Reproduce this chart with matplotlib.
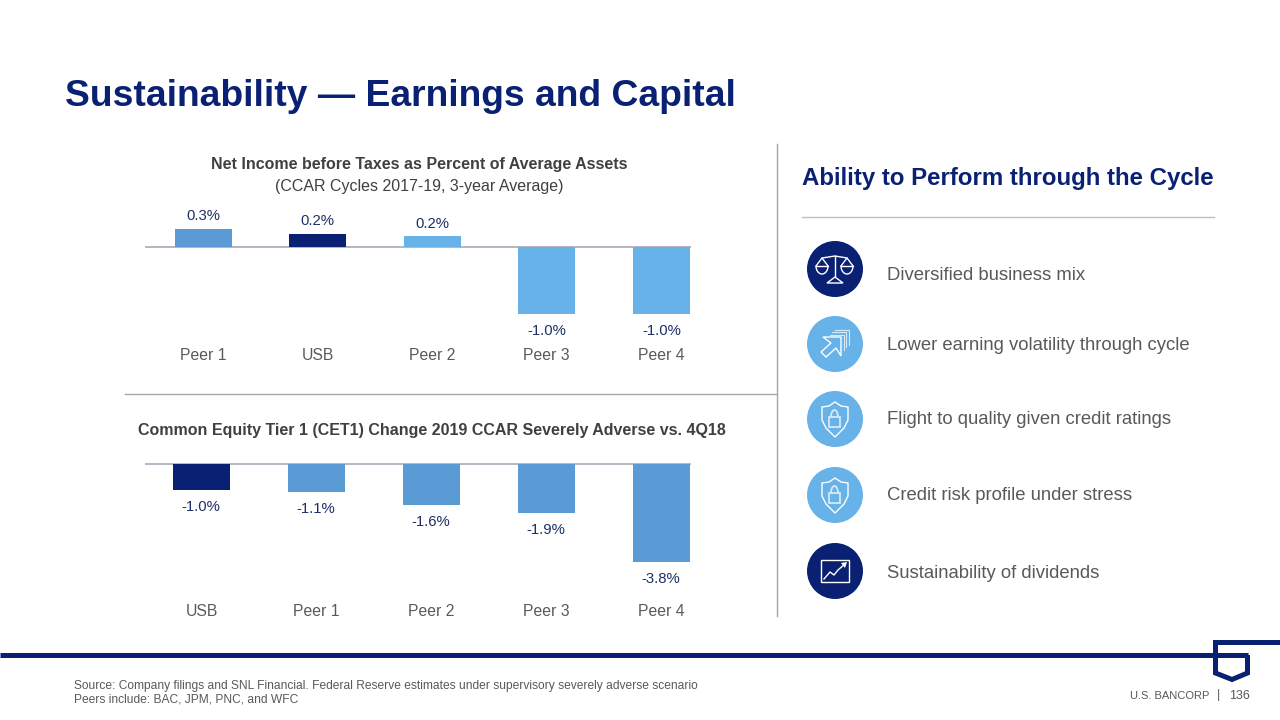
import numpy as np
import matplotlib
matplotlib.use("Agg")
import matplotlib.pyplot as plt
from matplotlib.patches import Circle, Polygon, Rectangle

plt.rcParams['font.family'] = ['Liberation Sans', 'DejaVu Sans']

# Datos de las barras
top_names = ['Peer 1', 'USB', 'Peer 2', 'Peer 3', 'Peer 4']
top_values = [0.27, 0.20, 0.16, -1.0, -1.0]
top_labels = ['0.3%', '0.2%', '0.2%', '-1.0%', '-1.0%']
bottom_names = ['USB', 'Peer 1', 'Peer 2', 'Peer 3', 'Peer 4']
bottom_values = [-1.0, -1.1, -1.6, -1.9, -3.8]
bottom_labels = ['-1.0%', '-1.1%', '-1.6%', '-1.9%', '-3.8%']
right_items = ['Diversified business mix', 'Lower earning volatility through cycle',
               'Flight to quality given credit ratings', 'Credit risk profile under stress',
               'Sustainability of dividends']

NAVY = '#0A2173'
MID = '#5B9BD5'
LIGHT = '#67B2E8'
GREY = '#595959'
LABEL = '#1F2F66'
W, H = 1280, 720

top_colors = [MID, NAVY, LIGHT, LIGHT, LIGHT]
bottom_colors = [NAVY, MID, MID, MID, MID]

fig = plt.figure(figsize=(W/100, H/100), dpi=100, facecolor='white')

# Capa en pixeles para textos, lineas e iconos
bg = fig.add_axes([0, 0, 1, 1])
bg.set_xlim(0, W)
bg.set_ylim(H, 0)
bg.axis('off')


def bar_axes(left, right, ytop, ybottom):
    return fig.add_axes([left/W, 1-ybottom/H, (right-left)/W, (ybottom-ytop)/H])


def draw_bars(ax, values, colors, names, labels, first, step, scale, base, name_y, off_up, off_down, dx):
    xs = np.arange(len(values))
    ax.bar(xs, values, width=57/step, color=colors, edgecolor='none', zorder=2)
    ax.axhline(0, color='#B5B5C3', lw=1.4, zorder=1)
    ax.axis('off')
    for i, v in enumerate(values):
        px = first + i*step
        if v > 0:
            py = base - v*scale - off_up
        else:
            py = base - v*scale + off_down
        bg.text(px+dx, py, labels[i], ha='center', va='center', fontsize=10.7, color=LABEL)
        bg.text(px, name_y, names[i], ha='center', va='center', fontsize=11.3, color=GREY)


# Grafica de arriba
first = 203
step = 114.6
ax1 = bar_axes(145, 691, 215, 325)
ax1.set_xlim((145-first)/step, (691-first)/step)
ax1.set_ylim((247-325)/67.0, (247-215)/67.0)
draw_bars(ax1, top_values, top_colors, top_names, top_labels, first, step, 67.0, 247, 356, 12.5, 17, 0)

# Grafica de abajo
first = 201.5
step = 115
ax2 = bar_axes(145, 691, 455, 570)
ax2.set_xlim((145-first)/step, (691-first)/step)
ax2.set_ylim((464-570)/25.8, (464-455)/25.8)
draw_bars(ax2, bottom_values, bottom_colors, bottom_names, bottom_labels, first, step, 25.8, 464, 612, 0, 17, -1)

# Titulos
bg.text(65, 96, 'Sustainability \u2014 Earnings and Capital', fontsize=26.85, fontweight='bold',
        color=NAVY, ha='left', va='center')
bg.text(419.5, 165, 'Net Income before Taxes as Percent of Average Assets', fontsize=11.55, fontweight='bold',
        color='#404040', ha='center', va='center')
bg.text(419.5, 186, '(CCAR Cycles 2017-19, 3-year Average)', fontsize=11.55, color='#404040', ha='center', va='center')
bg.text(431.5, 431, 'Common Equity Tier 1 (CET1) Change 2019 CCAR Severely Adverse vs. 4Q18', fontsize=11.55,
        fontweight='bold', color='#404040', ha='center', va='center')
bg.text(802, 178, 'Ability to Perform through the Cycle', fontsize=17.25, fontweight='bold',
        color=NAVY, ha='left', va='center')

# Separadores
bg.plot([777, 777], [144, 616], color='#A6A6A6', lw=1.0)
bg.plot([125, 777], [394, 394], color='#A6A6A6', lw=1.0)
bg.plot([802, 1214], [217, 217], color='#BFBFBF', lw=1.0)

# Lista de la derecha
icon_y = [269, 344, 419, 495, 571]
icon_c = [NAVY, LIGHT, LIGHT, LIGHT, NAVY]
text_y = [275, 345, 419, 495, 573]
for i in range(5):
    bg.add_patch(Circle((835, icon_y[i]), 28, color=icon_c[i], lw=0))
    bg.text(887, text_y[i], right_items[i], fontsize=13.3, color=GREY, ha='left', va='center')

ic = dict(color='white', lw=1.0, solid_capstyle='round')
soft = '#D5EAF9'

# Balanza
cy = icon_y[0]
bg.plot([835, 835], [cy-13, cy+8], **ic)
bg.plot([822, 835, 847], [cy-11, cy-13, cy-11], **ic)
bg.add_patch(Polygon([[835, cy+8], [827, cy+14], [843, cy+14]], fill=False, ec='white', lw=1.0))
for sx in (822, 847):
    bg.plot([sx-6, sx, sx+6], [cy-3, cy-11, cy-3], **ic)
    t = np.linspace(0, np.pi, 30)
    bg.plot(sx+6*np.cos(t), cy-3+8*np.sin(t), **ic)
    bg.plot([sx-6, sx+6], [cy-3, cy-3], **ic)

# Flecha
cy = icon_y[1]
bg.add_patch(Polygon([[823, cy-7], [841, cy-7], [841, cy+12], [836, cy+4], [826, cy+13],
                      [821, cy+8], [831, cy-1]], fill=False, ec='white', lw=1.0, joinstyle='miter'))
for d in (2.5, 5, 7.5):
    bg.plot([827+d, 841+d, 841+d], [cy-7-d, cy-7-d, cy+8-d], color=soft, lw=0.8)

# Escudos con candado
for cy in (icon_y[2], icon_y[3]):
    sh = [[835, cy-17], [841, cy-13], [848, cy-12], [848, cy+1], [844, cy+9], [835, cy+18],
          [826, cy+9], [822, cy+1], [822, cy-12], [829, cy-13]]
    bg.add_patch(Polygon(sh, fill=False, ec='white', lw=1.0))
    bg.add_patch(Rectangle((829, cy-2), 11, 10, fill=False, ec=soft, lw=1.3))
    t = np.linspace(np.pi, 2*np.pi, 20)
    bg.plot(834.5+3.5*np.cos(t), cy-2+7*np.sin(t), color=soft, lw=1.3)

# Grafico de dividendos
cy = icon_y[4]
bg.add_patch(Rectangle((821, cy-11), 28, 22, fill=False, ec='white', lw=1.0))
bg.plot([824, 830, 834, 838, 845], [cy+8, cy+1, cy+4, cy-1, cy-7], color='white', lw=1.0)
bg.add_patch(Polygon([[847, cy-9], [841, cy-8], [845, cy-3]], color='white', lw=0))

# Pie de pagina
bg.plot([0, 1248], [655, 655], color=NAVY, lw=3.6, solid_capstyle='butt')
bg.add_patch(Polygon([[1280, 642.5], [1215.5, 642.5], [1215.5, 673], [1232, 679.5], [1247.5, 673],
                      [1247.5, 655]], closed=False, fill=False, ec=NAVY, lw=3.6, joinstyle='miter'))
bg.text(74, 686, 'Source: Company filings and SNL Financial. Federal Reserve estimates under supervisory severely adverse scenario',
        fontsize=8.63, color=GREY, ha='left', va='center')
bg.text(74, 700, 'Peers include: BAC, JPM, PNC, and WFC', fontsize=8.63, color=GREY, ha='left', va='center')
bg.text(1130, 696, 'U.S. BANCORP', fontsize=8, color=GREY, ha='left', va='center')
bg.text(1218, 695, '|', fontsize=9, color=GREY, ha='center', va='center')
bg.text(1250, 696, '136', fontsize=9, color=GREY, ha='right', va='center')

fig.savefig('out.png', dpi=100)
